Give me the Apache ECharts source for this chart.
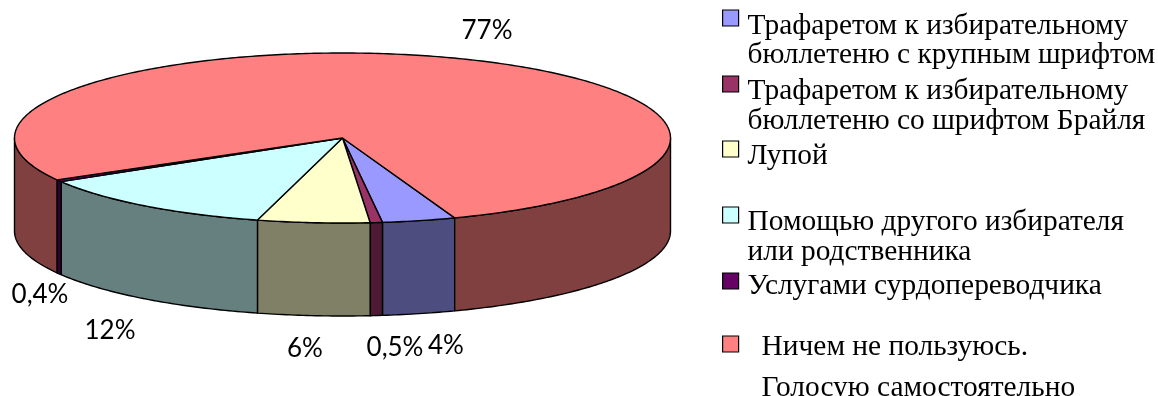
<!DOCTYPE html>
<html><head><meta charset="utf-8">
<style>html,body{margin:0;padding:0;background:#fff}#c{width:1158px;height:396px}</style>
<script src="https://cdn.jsdelivr.net/npm/echarts@6/dist/echarts.min.js"></script>
</head><body><div id="c"></div>
<script>
// Data
const categories = [
  'Трафаретом к избирательному\nбюллетеню с крупным шрифтом',
  'Трафаретом к избирательному\nбюллетеню со шрифтом Брайля',
  'Лупой',
  'Помощью другого избирателя\nили родственника',
  'Услугами сурдопереводчика',
  'Ничем не пользуюсь.\nГолосую самостоятельно'
];
const shares = [3.6, 0.6, 5.5, 12.2, 0.4, 77.4];
const shareLabels = ['4%', '0,5%', '6%', '12%', '0,4%', '77%'];

// Styles and layout
const topColors = ['#9999FF', '#993366', '#FFFFCC', '#CCFFFF', '#660066', '#FF8080'];
const wallColors = ['#4D4D80', '#4D1A33', '#808066', '#668080', '#330033', '#804040'];
const pie = {cx: 342.5, cy: 138, rx: 328, ry: 85, depth: 93, start: 70};
const labelPos = [[446, 346], [395, 348], [305, 349], [110, 331], [40, 295], [487, 31]];
const legendCy = [18, 84, 149, 215, 281, 344];
const legendGap = [4, 4, 4, 4, 4, 18];
const lh = [29, 30, 30, 30, 30, 41];
const drop = [8, 7, 7, 7, 5, 3];

const total = shares.reduce((a, b) => a + b, 0);
const pt = (deg, dy) => {
  const t = deg * Math.PI / 180;
  return [pie.cx + pie.rx * Math.cos(t), pie.cy + pie.ry * Math.sin(t) + (dy || 0)];
};
const arc = (a, b, dy) => {
  const out = [], n = Math.max(2, Math.ceil(Math.abs(b - a) / 0.75));
  for (let i = 0; i <= n; i++) out.push(pt(a + (b - a) * i / n, dy));
  return out;
};

function makeRender(idx) {
  const before = shares.slice(0, idx).reduce((a, b) => a + b, 0);
  return function (params, api) {
    const from = pie.start + before / total * 360;
    const to = from + api.value(0) / total * 360;
    const line = {stroke: '#000', lineWidth: 1.4, lineJoin: 'round'};
    const children = [];
    // the outer wall faces the viewer only between 0 and 180 degrees of each turn
    [[0, 180], [360, 540]].forEach(([lo, hi]) => {
      const a = Math.max(from, lo), b = Math.min(to, hi);
      if (b > a) {
        children.push({
          type: 'polygon',
          shape: {points: arc(a, b, 0).concat(arc(b, a, pie.depth))},
          style: Object.assign({fill: wallColors[idx]}, line)
        });
      }
    });
    children.push({
      type: 'polygon',
      shape: {points: [[pie.cx, pie.cy]].concat(arc(from, to, 0))},
      style: Object.assign({fill: topColors[idx]}, line)
    });
    children.push({
      type: 'text',
      z2: 50,
      style: {
        text: shareLabels[idx], x: labelPos[idx][0], y: labelPos[idx][1],
        align: 'center', verticalAlign: 'middle', fill: '#000',
        font: '26px Lato'
      }
    });
    return {type: 'group', children};
  };
}

const legends = categories.map((name, i) => {
  const rows = name.split('\n');
  const padH = lh[i] * (rows.length - 1) + drop[i] * 2;
  const height = lh[i] * rows.length + padH;
  return {
    data: [name],
    left: 722,
    top: legendCy[i] - height / 2,
    padding: 0,
    orient: 'vertical',
    selectedMode: false,
    icon: 'rect',
    itemWidth: 16,
    itemHeight: 16,
    itemStyle: {borderColor: '#000', borderWidth: 1.2},
    formatter: n => ['{pad| }'].concat(n.split('\n').map(r => '{row|' + r + '}')).join('\n'),
    textStyle: {
      rich: {
        pad: {height: padH, lineHeight: padH, fontSize: 1},
        row: {
          fontFamily: 'Liberation Serif', fontSize: 29.4, color: '#000',
          lineHeight: lh[i], height: lh[i], padding: [0, 0, 0, legendGap[i]]
        }
      }
    }
  };
});

const chart = echarts.init(document.getElementById('c'), null, {renderer: 'canvas'});
chart.setOption({
  backgroundColor: '#fff',
  animation: false,
  legend: legends,
  series: categories.map((name, i) => ({
    type: 'custom',
    name,
    coordinateSystem: 'none',
    itemStyle: {color: topColors[i]},
    silent: true,
    data: [[shares[i]]],
    renderItem: makeRender(i)
  }))
});
</script></body></html>
